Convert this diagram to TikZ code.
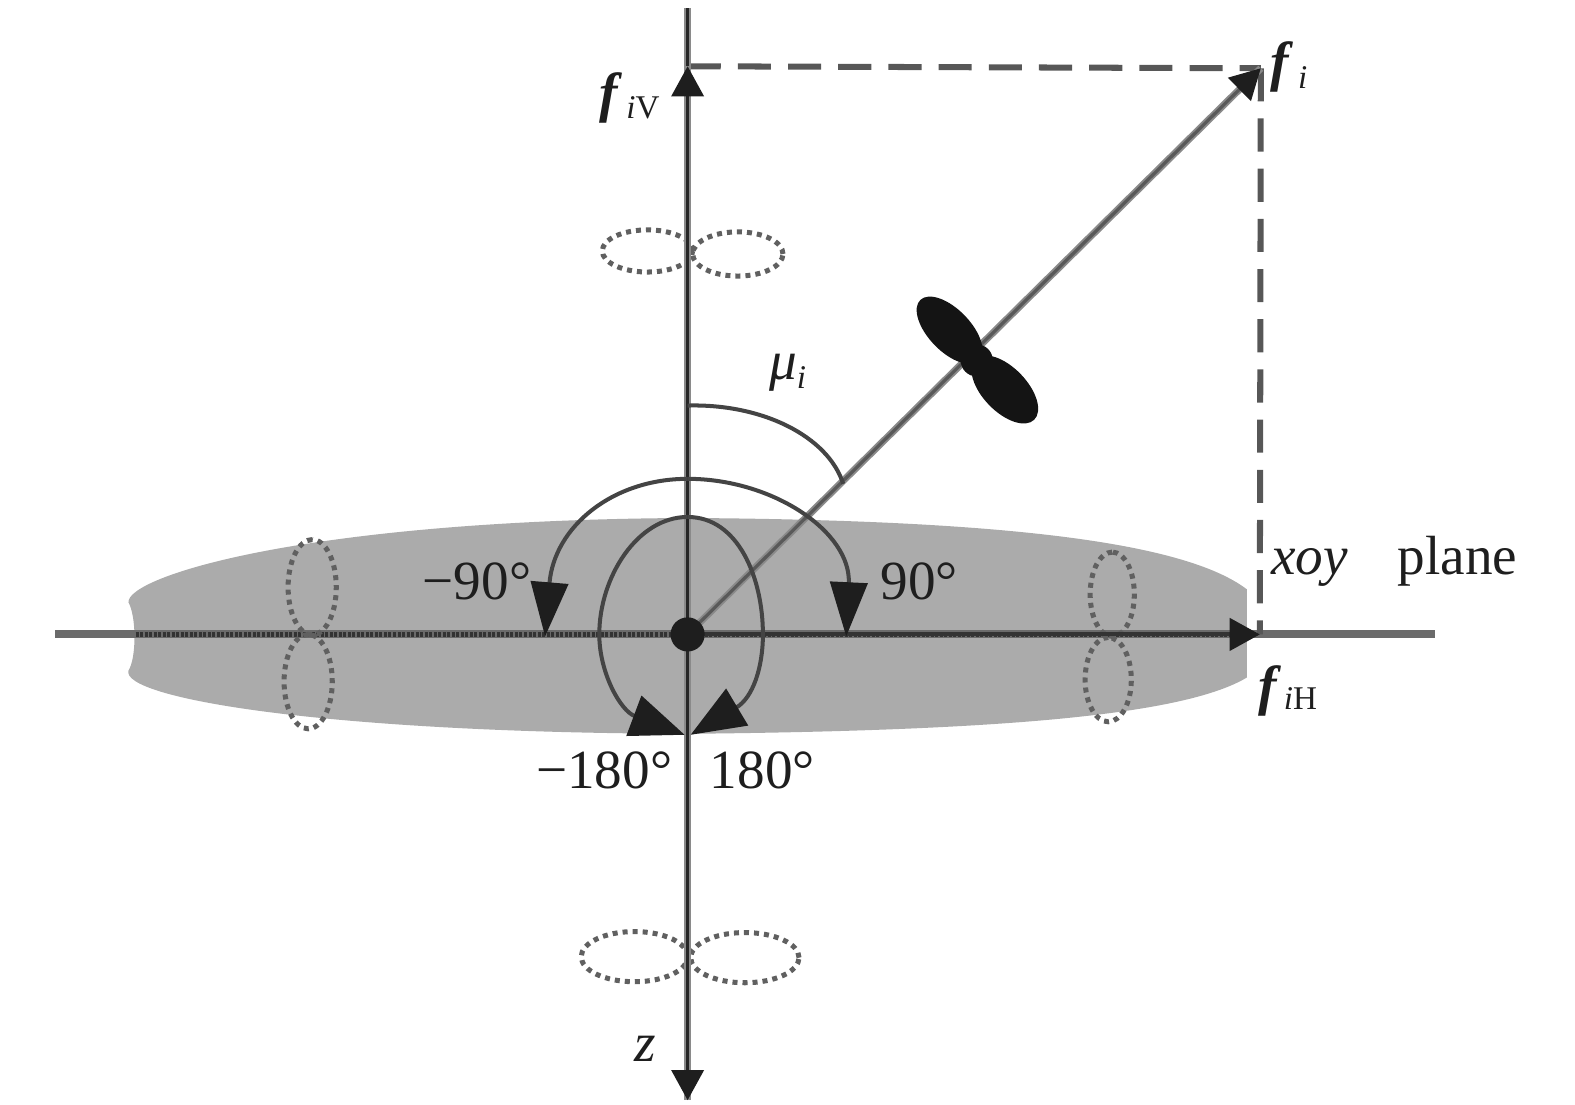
\documentclass[tikz,border=0pt]{standalone}
\usepackage{fontspec}
\setmainfont{Liberation Serif}
\usetikzlibrary{arrows.meta,shapes.geometric}
\definecolor{plateC}{HTML}{ABABAB}
\definecolor{haloC}{HTML}{8A8A8A}
\definecolor{arcC}{HTML}{444444}
\definecolor{darkC}{HTML}{1E1E1E}
\tikzset{
  lbl/.style={inner sep=0pt,font=\fontsize{55}{60}\selectfont,text=darkC},
  lobe/.style={draw=arcC!85,line width=5pt,dash pattern=on 5pt off 5pt,ellipse,inner sep=0pt,minimum width=#1},
  axishalo/.style={draw=haloC,line width=6.5pt},
  axiscore/.style={draw=black!85,line width=3.2pt},
  dashline/.style={draw=arcC!90,line width=6pt,dash pattern=on 33pt off 17pt},
  arcline/.style={draw=arcC,line width=4pt},
  bigtip/.style={-{Triangle[length=54pt,width=37pt,fill=darkC,color=darkC]}},
  bendtip/.style={-{Triangle[length=54pt,width=42pt,fill=darkC,color=darkC]}},
  axtip/.style={-{Triangle[length=30pt,width=32pt,fill=darkC,color=darkC]}},
}
\newcommand{\bfi}{\textbf{\textit{f}}}
\begin{document}
\begin{tikzpicture}[x=1pt,y=-1pt]
\useasboundingbox (0,0) rectangle (1569,1100);
% named points
\coordinate (o) at (685,632);
\coordinate (hl) at (55,632);
\coordinate (hr) at (1430,632);
\coordinate (hin) at (135,632);
\coordinate (hin2) at (1240,632);
\coordinate (ft) at (1255,632);
\coordinate (vt) at (685,8);
\coordinate (vb) at (685,1096);
\coordinate (fv) at (685,66);
\coordinate (f) at (1256,68);
\coordinate (m1) at (685,404);
\coordinate (m2) at (840,482);
\coordinate (top90) at (685,477);
\coordinate (tip90) at (843,634);
\coordinate (tipm90) at (543,634);
\coordinate (top180) at (685,515);
\coordinate (tip180) at (688,732);
\coordinate (tipm180) at (682,732);
% grey plate
\fill[plateC] (128,600) .. controls (126,575) and (300,518) .. (685,516)
  .. controls (1000,518) and (1180,540) .. (1242,587)
  -- (1242,675)
  .. controls (1180,712) and (1000,728) .. (685,731)
  .. controls (320,730) and (120,695) .. (128,668)
  .. controls (136,655) and (136,615) .. (128,600) -- cycle;
% horizontal axis
\draw[draw=black!58,line width=8pt] (hl) -- (hr);
\draw[draw=black!80,line width=5.5pt,dash pattern=on 3pt off 1.5pt] (hin) -- (hin2);
% lobes
\node[lobe=90pt,minimum height=42pt] (lt) at (645,250) {};
\node[lobe=90pt,minimum height=44pt] (rt) at (735,253) {};
\node[lobe=106pt,minimum height=50pt] (lb) at (632,953) {};
\node[lobe=108pt,minimum height=50pt] (rb) at (742,954) {};
\node[lobe=95pt,minimum height=48pt,rotate=90] (lu) at (311,585) {};
\node[lobe=94pt,minimum height=48pt,rotate=90] (ld) at (307,679) {};
\node[lobe=84pt,minimum height=44pt,rotate=90] (ru) at (1108,592) {};
\node[lobe=84pt,minimum height=46pt,rotate=90] (rd) at (1104,677) {};
% dashed projections
\draw[dashline] (fv) -- (f);
\draw[dashline] (f) -- (ft);
% vertical axis
\draw[axishalo] (vt) -- (vb);
\draw[axiscore,axtip] (o) -- (fv);
\draw[axiscore] (vt) -- (fv);
\draw[axiscore,axtip] (o) -- (vb);
% horizontal force arrow
\draw[draw=black!80,line width=4pt,axtip] (o) -- (ft);
% diagonal force
\draw[draw=haloC,line width=7pt] (o) -- (f);
\draw[draw=black!65,line width=3.2pt,axtip] (o) -- (f);
% black propeller
\node[ellipse,fill=black!92,inner sep=0pt,minimum width=84pt,minimum height=42pt,rotate=-46] (pa) at (946,329) {};
\node[ellipse,fill=black!92,inner sep=0pt,minimum width=84pt,minimum height=44pt,rotate=-46] (pb) at (1001,388) {};
\node[circle,fill=black!92,inner sep=0pt,minimum size=32pt] (pc) at (973,359) {};
% arcs
\draw[arcline] (m1) .. controls (760,402) and (825,435) .. (m2);
\draw[arcline,bigtip] (top90) .. controls (770,477) and (848,530) .. (tip90);
\draw[arcline,bigtip] (top90) .. controls (610,477) and (552,525) .. (tipm90);
\draw[arcline,bendtip] (top180) .. controls (735,515) and (760,575) .. (760,632) .. controls (760,665) and (750,695) .. (tip180);
\draw[arcline,bendtip] (top180) .. controls (635,515) and (597,575) .. (597,632) .. controls (597,670) and (618,708) .. (tipm180);
% hub
\node[circle,fill=darkC,inner sep=0pt,minimum size=34pt] (hub) at (o) {};
% labels
\node[lbl,anchor=base west] (fi) at (1265,80) {\bfi\kern5pt\raisebox{-8pt}{\fontsize{33}{36}\selectfont\textit{i}}};
\node[lbl,anchor=base west] (fiv) at (597,111) {\bfi\kern4pt\raisebox{-7pt}{\fontsize{33}{36}\selectfont\textit{i}V}};
\node[lbl,anchor=base west] (fih) at (1253,702) {\bfi\kern3pt\raisebox{-5pt}{\fontsize{33}{36}\selectfont\textit{i}H}};
\node[lbl,anchor=base west] (xoy) at (1266,572) {\textit{xoy}};
\node[lbl,anchor=base west] (plane) at (1392,572) {plane};
\node[lbl,anchor=base west] (n90) at (877,597) {90°};
\node[lbl,anchor=base west] (m90) at (421,597) {−90°};
\node[lbl,anchor=base west] (p180) at (707,785) {180°};
\node[lbl,anchor=base west] (m180) at (534,785) {−180°};
\node[lbl,anchor=base west] (z) at (632,1057) {\textit{z}};
\node[lbl,anchor=base west] (mu) at (766,378) {\textit{μ}\raisebox{-9pt}{\fontsize{33}{36}\selectfont\textit{i}}};
\end{tikzpicture}
\end{document}
